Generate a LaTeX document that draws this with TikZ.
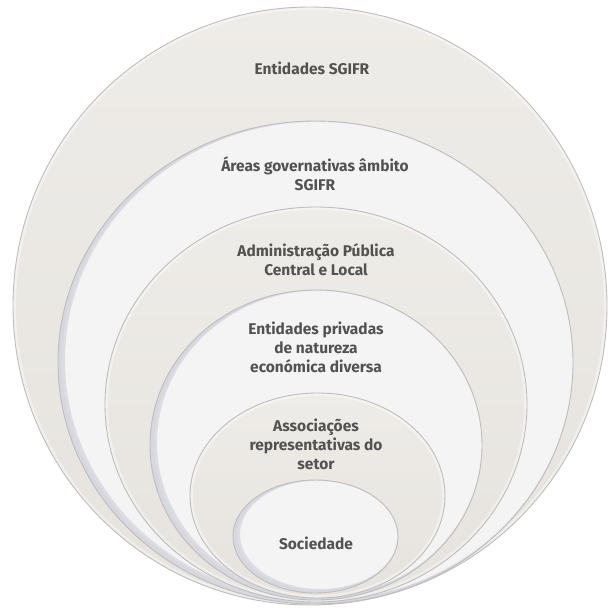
\documentclass[tikz,border=0pt]{standalone}
\usepackage{fontspec}
\setmainfont{Fira Sans}
\definecolor{warm}{HTML}{E6E3DE}
\definecolor{warmtop}{HTML}{EEECE8}
\definecolor{pale}{HTML}{F4F4F4}
\definecolor{rim}{HTML}{BDBDBD}
\definecolor{innershadow}{HTML}{CDCED9}
\definecolor{txt}{HTML}{525252}
\tikzset{
  warmdisc/.style={top color=warmtop, bottom color=warm},
  paledisc/.style={fill=pale},
  label/.style={font=\fontsize{15.5}{19}\selectfont\bfseries, text=txt, align=center, inner sep=0pt}
}
\newcommand{\disc}[6]{% style, cx, cy, rx, ry, shadow
  \begin{scope}
    \clip (#2,#3) ellipse [x radius=#4, y radius=#5];
    \path[#1] (#2,#3) ellipse [x radius=#4, y radius=#5];
    \ifx#6y
      \draw[innershadow, line width=10pt, opacity=0.6] (#2+5,#3-2) ellipse [x radius=#4+3, y radius=#5+3];
      \draw[innershadow, line width=4pt, opacity=0.3] (#2+2,#3-1) ellipse [x radius=#4, y radius=#5];
    \else
      \draw[white, line width=6pt, opacity=0.4] (#2,#3) ellipse [x radius=#4, y radius=#5];
    \fi
  \end{scope}
  \draw[rim, line width=0.9pt] (#2,#3) ellipse [x radius=#4, y radius=#5];
}
\begin{document}
\begin{tikzpicture}[x=1pt,y=-1pt]
\useasboundingbox (0,0) rectangle (611,614);
\disc{warmdisc}{310}{306}{297}{299}{n}
\disc{paledisc}{315.5}{362.5}{257.5}{241.5}{y}
\disc{warmdisc}{316}{404.5}{211}{197.5}{n}
\disc{paledisc}{316}{445}{166}{155}{y}
\disc{warmdisc}{317.5}{495.5}{127.5}{102.5}{n}
\disc{paledisc}{315.5}{536.5}{82.5}{56.5}{y}
\node[label] (t1) at (312,68) {Entidades SGIFR};
\node[label] (t2) at (315,173.5) {Áreas governativas âmbito\\SGIFR};
\node[label] (t3) at (316,259.5) {Administração Pública\\Central e Local};
\node[label] (t4) at (316,347) {Entidades privadas\\de natureza\\económica diversa};
\node[label] (t5) at (316,444) {Associações\\representativas do\\setor};
\node[label] (t6) at (316,543) {Sociedade};
\end{tikzpicture}
\end{document}
